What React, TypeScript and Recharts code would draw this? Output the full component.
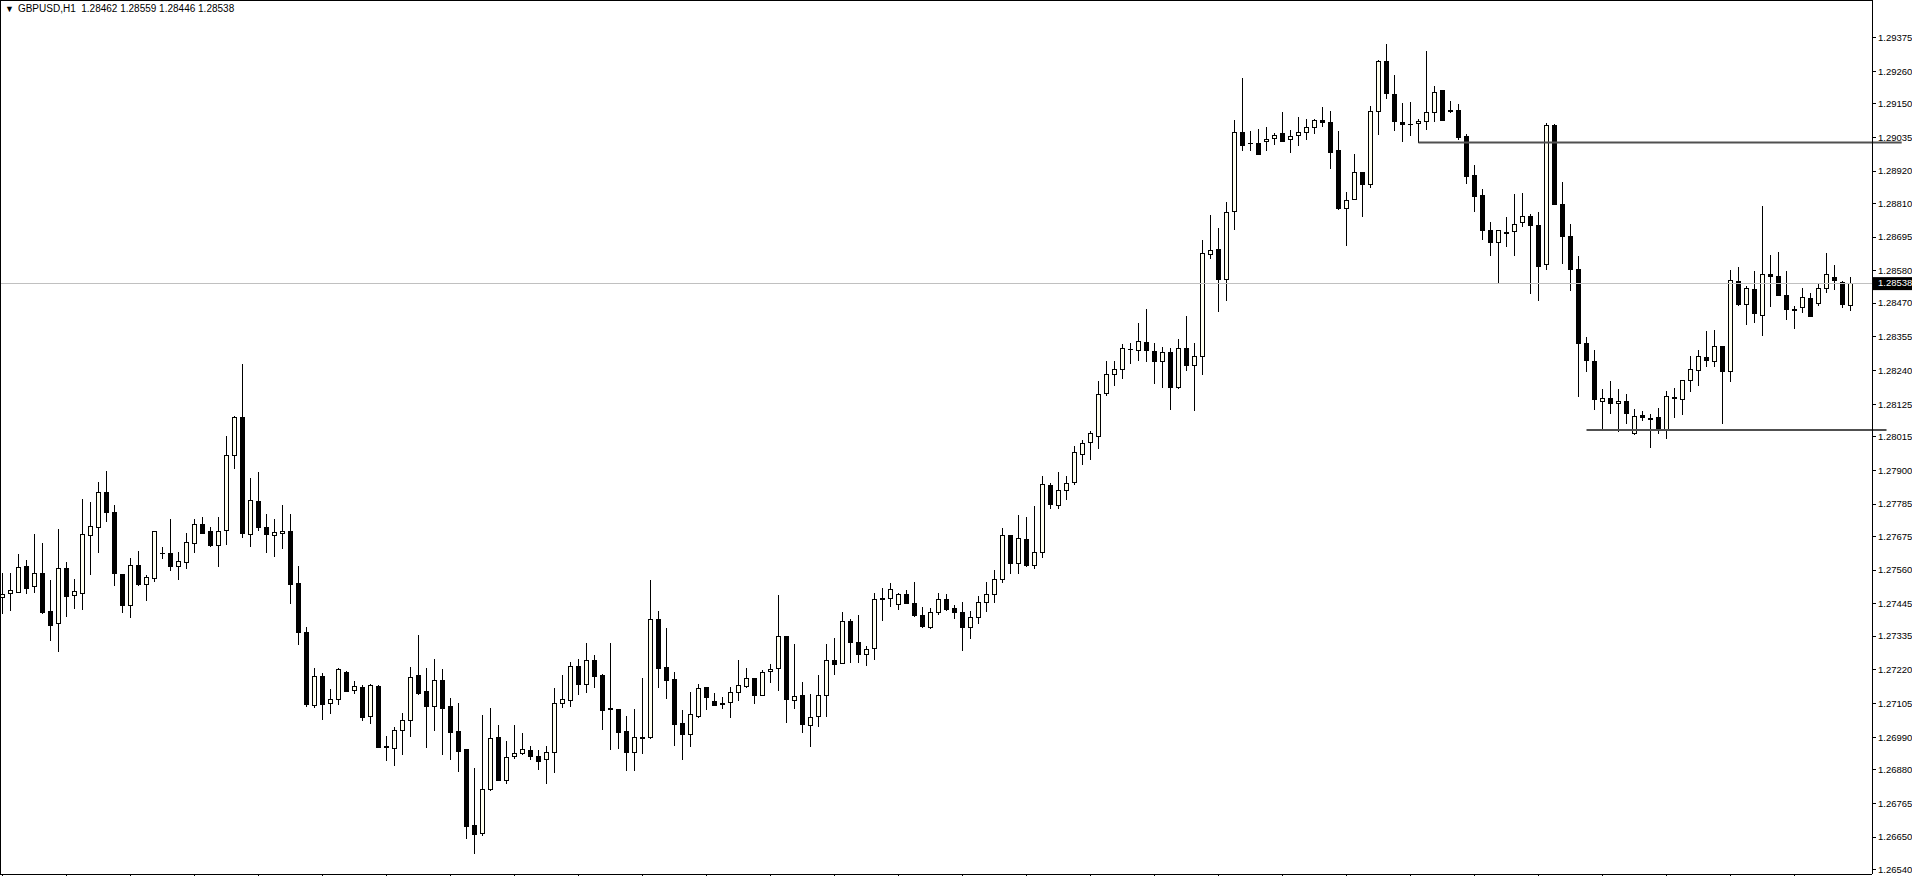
import React from 'react';
import { ComposedChart, Bar, XAxis, YAxis, ReferenceLine } from 'recharts';

// GBPUSD H1 bars, oldest first
const OPEN = [
  1.27468, 1.27481, 1.27486, 1.27574, 1.27504, 1.27549, 1.27419, 1.27378, 1.27566, 1.27474,
  1.27483, 1.27678, 1.27708, 1.27826, 1.27757, 1.27546, 1.2744, 1.27576, 1.27511, 1.27532,
  1.27618, 1.27617, 1.27575, 1.27586, 1.27653, 1.27716, 1.27692, 1.27646, 1.27695, 1.27951,
  1.28081, 1.27684, 1.27794, 1.27706, 1.2768, 1.27685, 1.27692, 1.27515, 1.27348, 1.271,
  1.27198, 1.27106, 1.27119, 1.27211, 1.2715, 1.27161, 1.27061, 1.27165, 1.2696, 1.26952,
  1.27014, 1.27048, 1.27201, 1.27147, 1.27098, 1.27185, 1.27096, 1.27011, 1.2695, 1.2669,
  1.26665, 1.26813, 1.2699, 1.26845, 1.26925, 1.26935, 1.26946, 1.26925, 1.26915, 1.26939,
  1.27106, 1.27116, 1.27232, 1.27171, 1.27252, 1.27201, 1.2709, 1.27085, 1.2701, 1.26939,
  1.26989, 1.2699, 1.27392, 1.27228, 1.27187, 1.27037, 1.27002, 1.27063, 1.2716, 1.27112,
  1.27106, 1.27109, 1.27143, 1.27164, 1.27191, 1.27135, 1.27215, 1.27225, 1.27334, 1.27116,
  1.27133, 1.27033, 1.27063, 1.27135, 1.27252, 1.27244, 1.27385, 1.27314, 1.27274, 1.27294,
  1.27464, 1.27464, 1.27443, 1.2748, 1.27446, 1.27406, 1.27365, 1.27416, 1.2746, 1.27429,
  1.27416, 1.27365, 1.274, 1.2745, 1.2748, 1.2753, 1.27678, 1.27583, 1.27665, 1.27576,
  1.2762, 1.27849, 1.27781, 1.27832, 1.27859, 1.27954, 1.27995, 1.28016, 1.28162, 1.28227,
  1.28244, 1.28313, 1.28309, 1.28336, 1.28305, 1.28271, 1.28302, 1.28183, 1.28316, 1.28258,
  1.28288, 1.28636, 1.28653, 1.28551, 1.28783, 1.29052, 1.29015, 1.29014, 1.29021, 1.29032,
  1.29049, 1.29028, 1.29042, 1.29052, 1.29069, 1.29093, 1.29086, 1.28991, 1.28795, 1.28826,
  1.28916, 1.28877, 1.29124, 1.29294, 1.29181, 1.29086, 1.2908, 1.29083, 1.29089, 1.2912,
  1.29195, 1.29127, 1.29127, 1.29039, 1.28905, 1.28837, 1.28718, 1.28679, 1.28711, 1.28714,
  1.28745, 1.28766, 1.28735, 1.28602, 1.29076, 1.28806, 1.28697, 1.28586, 1.28333, 1.28271,
  1.28136, 1.28145, 1.28128, 1.28136, 1.28026, 1.28087, 1.28077, 1.2808, 1.2804, 1.28145,
  1.28142, 1.28207, 1.28242, 1.28286, 1.28271, 1.28323, 1.28237, 1.28545, 1.28466, 1.28518,
  1.28429, 1.28569, 1.28562, 1.28496, 1.28449, 1.28455, 1.28486, 1.28469, 1.28521, 1.28559,
  1.28542, 1.28462,
];

const HIGH = [
  1.2755, 1.27549, 1.27615, 1.27594, 1.27683, 1.27651, 1.27526, 1.277, 1.27586, 1.27529,
  1.27802, 1.27792, 1.2786, 1.27896, 1.27782, 1.27548, 1.276, 1.27625, 1.27544, 1.27693,
  1.27637, 1.27734, 1.27621, 1.27685, 1.27734, 1.2774, 1.27708, 1.2774, 1.28017, 1.28085,
  1.28262, 1.27873, 1.27894, 1.2775, 1.27734, 1.27782, 1.27751, 1.27574, 1.27365, 1.27225,
  1.27208, 1.27154, 1.27225, 1.27215, 1.27182, 1.27167, 1.2717, 1.27167, 1.26994, 1.27024,
  1.27072, 1.27229, 1.27338, 1.27226, 1.27257, 1.27223, 1.27124, 1.27107, 1.2695, 1.26885,
  1.27066, 1.2709, 1.27032, 1.26977, 1.27032, 1.27004, 1.26959, 1.26946, 1.2696, 1.27158,
  1.27201, 1.27246, 1.27257, 1.27311, 1.2727, 1.27205, 1.27311, 1.27088, 1.27061, 1.27088,
  1.27191, 1.27526, 1.2742, 1.27362, 1.27211, 1.27083, 1.27144, 1.27171, 1.27161, 1.2714,
  1.27126, 1.27161, 1.27252, 1.27225, 1.27192, 1.27218, 1.27239, 1.27474, 1.27335, 1.27307,
  1.27178, 1.27136, 1.27201, 1.27307, 1.27327, 1.27416, 1.27392, 1.27406, 1.273, 1.27481,
  1.27498, 1.27515, 1.27481, 1.27491, 1.27518, 1.27433, 1.27429, 1.27481, 1.27477, 1.2744,
  1.2745, 1.2742, 1.2747, 1.2752, 1.2756, 1.27703, 1.27679, 1.27747, 1.2774, 1.27777,
  1.27879, 1.27856, 1.27893, 1.27879, 1.27982, 1.28002, 1.28033, 1.28203, 1.28271, 1.28271,
  1.28329, 1.28335, 1.28402, 1.2845, 1.28333, 1.28319, 1.28316, 1.28346, 1.28425, 1.28333,
  1.28684, 1.28769, 1.28725, 1.28813, 1.29093, 1.29236, 1.29055, 1.29062, 1.29069, 1.29049,
  1.2912, 1.29059, 1.29103, 1.29096, 1.29096, 1.29137, 1.29124, 1.29055, 1.28849, 1.28977,
  1.28917, 1.29141, 1.29297, 1.29352, 1.29246, 1.29151, 1.29154, 1.29096, 1.29328, 1.29209,
  1.29196, 1.29158, 1.29147, 1.29045, 1.28939, 1.28858, 1.28748, 1.28718, 1.28762, 1.28841,
  1.28844, 1.28772, 1.28779, 1.29084, 1.29079, 1.28883, 1.28738, 1.2863, 1.28354, 1.28309,
  1.28176, 1.28205, 1.28176, 1.28159, 1.28108, 1.28101, 1.28091, 1.28111, 1.28169, 1.28179,
  1.28208, 1.2829, 1.28309, 1.28374, 1.28378, 1.28324, 1.28582, 1.28593, 1.28528, 1.28579,
  1.288, 1.28634, 1.28644, 1.28579, 1.28459, 1.28521, 1.28503, 1.28538, 1.2864, 1.286,
  1.28545, 1.28559,
];

const LOW = [
  1.27413, 1.27424, 1.27484, 1.27483, 1.27485, 1.27414, 1.27321, 1.27285, 1.27404, 1.27431,
  1.27427, 1.27546, 1.27622, 1.27728, 1.27509, 1.27418, 1.27401, 1.27509, 1.27458, 1.27523,
  1.27602, 1.2756, 1.27529, 1.27568, 1.27622, 1.27685, 1.27642, 1.27575, 1.27649, 1.27909,
  1.27673, 1.27642, 1.27697, 1.27622, 1.27609, 1.27636, 1.27447, 1.27309, 1.27096, 1.27093,
  1.27053, 1.27074, 1.27104, 1.27149, 1.27142, 1.2705, 1.2704, 1.26958, 1.26912, 1.26895,
  1.26934, 1.26995, 1.27137, 1.26958, 1.27016, 1.26934, 1.26917, 1.26876, 1.26648, 1.26597,
  1.26658, 1.2681, 1.26845, 1.26833, 1.26918, 1.26933, 1.26917, 1.26883, 1.26835, 1.26873,
  1.27094, 1.27098, 1.27138, 1.27145, 1.27162, 1.27019, 1.26951, 1.26954, 1.26879, 1.26879,
  1.26938, 1.26988, 1.27162, 1.27125, 1.26965, 1.26917, 1.26961, 1.2706, 1.27087, 1.27101,
  1.27091, 1.2706, 1.27118, 1.2716, 1.27108, 1.27134, 1.27179, 1.27152, 1.27043, 1.27091,
  1.27009, 1.26961, 1.27029, 1.27063, 1.27207, 1.27243, 1.27247, 1.27247, 1.27235, 1.27258,
  1.27389, 1.27438, 1.27426, 1.27446, 1.27402, 1.27365, 1.27364, 1.27409, 1.27423, 1.27395,
  1.27286, 1.2733, 1.2738, 1.2742, 1.2745, 1.2752, 1.27549, 1.27549, 1.27573, 1.27568,
  1.27603, 1.2777, 1.2777, 1.27801, 1.27852, 1.2792, 1.27937, 1.27975, 1.28155, 1.2819,
  1.28213, 1.28265, 1.28277, 1.28273, 1.28196, 1.28183, 1.28108, 1.28182, 1.28241, 1.28104,
  1.28227, 1.28622, 1.28442, 1.28479, 1.28721, 1.28991, 1.28991, 1.28977, 1.28991, 1.29011,
  1.29021, 1.28986, 1.2901, 1.2903, 1.29049, 1.29072, 1.2893, 1.28791, 1.28669, 1.28825,
  1.28768, 1.28866, 1.29047, 1.29168, 1.29059, 1.29021, 1.29042, 1.2902, 1.29063, 1.29089,
  1.29093, 1.2912, 1.29028, 1.2888, 1.28785, 1.28687, 1.28634, 1.28543, 1.28665, 1.28634,
  1.28734, 1.28505, 1.28481, 1.28587, 1.28806, 1.28606, 1.28513, 1.28152, 1.28237, 1.28108,
  1.2804, 1.28094, 1.28033, 1.28061, 1.28025, 1.2807, 1.27978, 1.28026, 1.28009, 1.2808,
  1.28091, 1.28169, 1.2819, 1.28256, 1.28256, 1.28061, 1.28206, 1.28462, 1.28397, 1.28404,
  1.2836, 1.28459, 1.28496, 1.28415, 1.28384, 1.28438, 1.28425, 1.28462, 1.28508, 1.28518,
  1.28455, 1.28446,
];

const CLOSE = [
  1.27478, 1.27491, 1.27569, 1.275, 1.27549, 1.27418, 1.27374, 1.27566, 1.27472, 1.27487,
  1.27682, 1.27709, 1.27825, 1.27759, 1.27551, 1.27442, 1.27576, 1.27512, 1.27538, 1.27692,
  1.27617, 1.27575, 1.2759, 1.27654, 1.27716, 1.27687, 1.27645, 1.27692, 1.27951, 1.28081,
  1.27687, 1.27798, 1.27707, 1.27684, 1.27689, 1.27692, 1.27513, 1.2735, 1.27103, 1.27198,
  1.27104, 1.27119, 1.27222, 1.27149, 1.27164, 1.2706, 1.27167, 1.26958, 1.26957, 1.27014,
  1.27048, 1.27194, 1.27141, 1.27098, 1.27184, 1.27091, 1.27009, 1.26944, 1.26689, 1.26661,
  1.26813, 1.26986, 1.26845, 1.26922, 1.26935, 1.26949, 1.26925, 1.2691, 1.26939, 1.27106,
  1.27119, 1.27232, 1.27171, 1.27252, 1.272, 1.27084, 1.27086, 1.27009, 1.26939, 1.2699,
  1.26991, 1.27392, 1.27227, 1.27186, 1.27036, 1.27002, 1.27068, 1.27157, 1.27128, 1.27101,
  1.27103, 1.27143, 1.27167, 1.27191, 1.27135, 1.27211, 1.27222, 1.27334, 1.27119, 1.27132,
  1.27036, 1.2706, 1.27133, 1.27252, 1.27241, 1.27385, 1.27314, 1.27274, 1.27291, 1.2746,
  1.2746, 1.27494, 1.2748, 1.27446, 1.27406, 1.27368, 1.27416, 1.2746, 1.27426, 1.27416,
  1.27365, 1.274, 1.2745, 1.2748, 1.2753, 1.27678, 1.27583, 1.27668, 1.27576, 1.2762,
  1.27852, 1.27784, 1.27832, 1.27856, 1.27961, 1.27992, 1.28026, 1.28159, 1.28227, 1.28244,
  1.28316, 1.28312, 1.2834, 1.28309, 1.28271, 1.28302, 1.28183, 1.28316, 1.28258, 1.28288,
  1.28639, 1.2865, 1.28551, 1.28779, 1.29052, 1.29008, 1.29014, 1.28977, 1.29028, 1.29042,
  1.29024, 1.29039, 1.29052, 1.29069, 1.29093, 1.29086, 1.28986, 1.28795, 1.28822, 1.28916,
  1.28877, 1.29124, 1.29294, 1.29185, 1.29089, 1.29079, 1.29079, 1.29089, 1.2912, 1.29188,
  1.29093, 1.29124, 1.29035, 1.28904, 1.28836, 1.2872, 1.28679, 1.28718, 1.2871, 1.28738,
  1.28766, 1.28735, 1.28598, 1.29076, 1.28806, 1.28697, 1.28586, 1.28333, 1.28275, 1.28142,
  1.28145, 1.28128, 1.28136, 1.28094, 1.28084, 1.2808, 1.28076, 1.28043, 1.28152, 1.28149,
  1.28207, 1.28245, 1.2829, 1.28275, 1.28323, 1.28237, 1.28548, 1.28466, 1.28521, 1.28435,
  1.28569, 1.28562, 1.28496, 1.28449, 1.28445, 1.2849, 1.28425, 1.28521, 1.28569, 1.28548,
  1.28466, 1.28538,
];

const PRICE_TICKS = [
  '1.29375', '1.29260', '1.29150', '1.29035', '1.28920', '1.28810', '1.28695', '1.28580',
  '1.28470', '1.28355', '1.28240', '1.28125', '1.28015', '1.27900', '1.27785', '1.27675',
  '1.27560', '1.27445', '1.27335', '1.27220', '1.27105', '1.26990', '1.26880', '1.26765',
  '1.26650', '1.26540',
];

// bar indexes that carry a time mark on the bottom scale
const TIME_TICKS = [
  0, 8, 16, 24, 32, 40, 48, 56, 64, 72, 80, 88, 96, 104, 112, 120, 128, 136, 144, 152,
  160, 168, 176, 184, 192, 200, 208, 216, 224,
];

const SYMBOL = 'GBPUSD,H1';
const LAST_PRICE = 1.28538;
const RESISTANCE = { from: 177, to: 237.4, price: 1.29017 };
const SUPPORT = { from: 198, to: 235.5, price: 1.28037 };

const Y_MIN = 1.26524;
const Y_MAX = 1.29503;

const FONT = '"Liberation Sans", Arial, sans-serif';
const BULL_FILL = '#fffff0';

const data = OPEN.map((open, i) => ({
  i,
  open,
  high: HIGH[i],
  low: LOW[i],
  close: CLOSE[i],
  range: [LOW[i], HIGH[i]],
}));

const CandleShape = (props: any) => {
  const { x, y, width, height, payload } = props;
  if (!payload) return null;
  const { open, high, low, close } = payload;
  const span = high - low;
  const k = span > 0 ? Math.abs(height) / span : 0;
  const top0 = Math.min(y, y + height);
  const py = (p: number) => top0 + (high - p) * k;
  const cx = Math.floor(x + width / 2) + 0.5;
  const bodyTop = Math.round(py(Math.max(open, close)));
  const bodyBot = Math.round(py(Math.min(open, close)));
  const bull = close >= open;
  return (
    <g shapeRendering="crispEdges">
      <line x1={cx} x2={cx} y1={Math.round(py(high))} y2={Math.round(py(low)) + 1} stroke="#000" />
      {bodyBot - bodyTop < 1 ? (
        <line x1={cx - 2.5} x2={cx + 2.5} y1={bodyTop + 0.5} y2={bodyTop + 0.5} stroke="#000" />
      ) : (
        <rect
          x={cx - 2}
          y={bodyTop + 0.5}
          width={4}
          height={bodyBot - bodyTop}
          fill={bull ? BULL_FILL : '#000'}
          stroke="#000"
        />
      )}
    </g>
  );
};

const NoTick = () => null;

const PriceTag = (props: any) => {
  const vb = props.viewBox || {};
  const x = vb.x + vb.width + 1;
  const y = vb.y;
  return (
    <g>
      <rect x={x} y={y - 6} width={40} height={13} fill="#000" />
      <text x={x + 5} y={y} dy="0.355em" fill="#fff" fontSize={9.5} fontFamily={FONT}>
        {LAST_PRICE.toFixed(5)}
      </text>
    </g>
  );
};

export default function App() {
  return (
    <div style={{ position: 'absolute', left: 0, top: 0, width: 1912, height: 876, background: '#fff', overflow: 'hidden' }}>
      <ComposedChart width={1912} height={876} data={data} margin={{ top: 0, right: 0, bottom: 0, left: 0 }}>
        <XAxis
          dataKey="i"
          type="number"
          domain={[-0.3125, 233.6875]}
          allowDataOverflow
          ticks={TIME_TICKS}
          interval={0}
          tick={NoTick}
          tickSize={4}
          height={2}
          axisLine={{ stroke: '#000', shapeRendering: 'crispEdges' }}
          tickLine={{ stroke: '#000', shapeRendering: 'crispEdges' }}
        />
        <YAxis
          orientation="right"
          type="number"
          width={40}
          domain={[Y_MIN, Y_MAX]}
          allowDataOverflow
          ticks={PRICE_TICKS.map(Number)}
          interval={0}
          tickSize={4}
          tickFormatter={(v: number) => v.toFixed(5)}
          tick={{ fill: '#000', fontSize: 9.5, fontFamily: FONT }}
          axisLine={{ stroke: '#000', shapeRendering: 'crispEdges' }}
          tickLine={{ stroke: '#000', shapeRendering: 'crispEdges' }}
        />
        <ReferenceLine
          y={LAST_PRICE}
          stroke="#c0c0c0"
          shapeRendering="crispEdges"
          label={<PriceTag />}
        />
        <ReferenceLine
          segment={[{ x: RESISTANCE.from, y: RESISTANCE.price }, { x: RESISTANCE.to, y: RESISTANCE.price }]}
          stroke="#505050"
          strokeWidth={2}
          ifOverflow="visible"
        />
        <ReferenceLine
          segment={[{ x: SUPPORT.from, y: SUPPORT.price }, { x: SUPPORT.to, y: SUPPORT.price }]}
          stroke="#505050"
          strokeWidth={2}
          ifOverflow="visible"
        />
        <Bar dataKey="range" barSize={5} shape={CandleShape} isAnimationActive={false} />
      </ComposedChart>
      {/* chart frame, left and top */}
      <div style={{ position: 'absolute', left: 0, top: 0, width: 1, height: 875, background: '#000' }} />
      <div style={{ position: 'absolute', left: 0, top: 0, width: 1873, height: 1, background: '#000' }} />
      <div
        style={{
          position: 'absolute',
          left: 5,
          top: 3,
          fontFamily: FONT,
          fontSize: 10,
          color: '#000',
          whiteSpace: 'pre',
          lineHeight: '12px',
        }}
      >
        <span style={{ fontSize: 9, marginRight: 4 }}>▼</span>
        {`${SYMBOL}  ${OPEN[OPEN.length - 1].toFixed(5)} ${HIGH[HIGH.length - 1].toFixed(5)} ${LOW[LOW.length - 1].toFixed(5)} ${CLOSE[CLOSE.length - 1].toFixed(5)}`}
      </div>
    </div>
  );
}
